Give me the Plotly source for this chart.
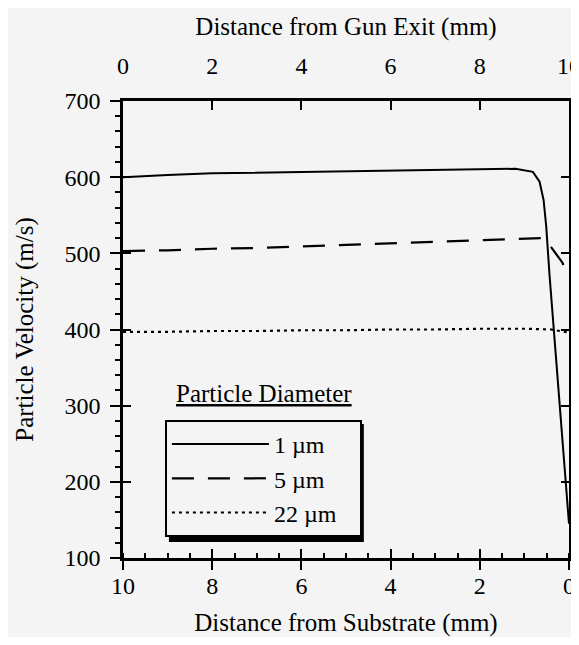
import plotly.graph_objects as go

# Distance from gun exit (mm) and particle velocity (m/s) for each particle diameter
x_1um = [0, 1, 2, 3, 4, 5, 6, 7, 8, 8.8, 9.19, 9.34, 9.43, 9.49, 9.56, 9.71, 9.90, 9.97, 10.0]
v_1um = [600, 603, 605, 606, 607, 608, 609, 610, 611, 611, 607, 594, 570, 535, 474, 360, 220, 172, 145]

x_5um = [0, 1, 2, 3, 4, 5, 6, 7, 8, 9, 9.41, 9.55, 9.67, 9.85, 10.0]
v_5um = [503, 504, 506, 507, 509, 511, 513, 515, 517, 519, 520, 512, 502, 488, 468]

x_22um = [0, 1, 2, 3, 4, 5, 6, 7, 8, 9, 9.6, 10.0]
v_22um = [397, 397, 398, 398, 399, 399, 400, 400, 401, 401, 400, 396]

series_names = ["1 \u00b5m", "5 \u00b5m", "22 \u00b5m\u00a0\u00a0\u00a0"]

top_ticks = [0, 2, 4, 6, 8, 10]
bottom_ticks = [10, 8, 6, 4, 2, 0]
y_ticks = [100, 200, 300, 400, 500, 600, 700]

FONT = "Liberation Serif"
BG = "#f4f4f4"

fig = go.Figure()
fig.add_trace(go.Scatter(x=x_1um, y=v_1um, mode="lines", name=series_names[0],
                         xaxis="x2", yaxis="y",
                         line=dict(color="black", width=2, dash="solid")))
fig.add_trace(go.Scatter(x=x_5um, y=v_5um, mode="lines", name=series_names[1],
                         xaxis="x2", yaxis="y",
                         line=dict(color="black", width=2.2, dash="22px,14px")))
fig.add_trace(go.Scatter(x=x_22um, y=v_22um, mode="lines", name=series_names[2],
                         xaxis="x2", yaxis="y",
                         line=dict(color="black", width=2.2, dash="3px,4px")))
# empty helpers so the bottom distance axis and the inside-tick y axis are drawn
fig.add_trace(go.Scatter(x=[None], y=[None], xaxis="x", yaxis="y", showlegend=False,
                         hoverinfo="skip"))
fig.add_trace(go.Scatter(x=[None], y=[None], xaxis="x", yaxis="y2", showlegend=False,
                         hoverinfo="skip"))

tickfont = dict(family=FONT, size=24, color="black")
titlefont = dict(family=FONT, size=25, color="black")

fig.update_layout(
    width=563, height=629,
    margin=dict(l=115, r=2, t=93, b=79, autoexpand=False),
    paper_bgcolor=BG, plot_bgcolor=BG,
    font=dict(family=FONT, color="black"),
    xaxis=dict(
        range=[10, 0], tickvals=bottom_ticks, ticktext=[str(t) for t in bottom_ticks],
        side="bottom", showgrid=False, zeroline=False,
        showline=True, linecolor="black", linewidth=2.5, mirror=True,
        ticks="outside", ticklen=9, tickwidth=2, tickcolor="black",
        minor=dict(dtick=0.5, ticks="inside", ticklen=5, tickwidth=1.5, tickcolor="black"),
        tickfont=tickfont, ticklabelstandoff=-5, ticklabeloverflow="allow",
        title=dict(text="Distance from Substrate (mm)", font=titlefont, standoff=23),
    ),
    xaxis2=dict(
        range=[0, 10], tickvals=top_ticks, ticktext=[str(t) for t in top_ticks],
        overlaying="x", side="top", showgrid=False, zeroline=False,
        showline=False, mirror="ticks",
        ticks="inside", ticklen=9, tickwidth=2, tickcolor="black",
        tickfont=tickfont, ticklabelstandoff=21, ticklabeloverflow="allow",
        title=dict(text="Distance from Gun Exit (mm)", font=titlefont, standoff=10),
    ),
    yaxis=dict(
        range=[100, 700], tickvals=y_ticks, ticktext=[str(t) for t in y_ticks],
        showgrid=False, zeroline=False,
        showline=True, linecolor="black", linewidth=2.5, mirror=True,
        ticks="outside", ticklen=10, tickwidth=2, tickcolor="black",
        minor=dict(dtick=20, ticks="outside", ticklen=5, tickwidth=1.5, tickcolor="black"),
        tickfont=tickfont, ticklabelstandoff=5,
        title=dict(text="Particle Velocity (m/s)", font=titlefont, standoff=24),
    ),
    yaxis2=dict(
        range=[100, 700], tickvals=y_ticks, overlaying="y", side="left",
        showgrid=False, zeroline=False, showline=False, mirror="ticks",
        ticks="inside", ticklen=8, tickwidth=2, tickcolor="black",
        showticklabels=False,
    ),
    showlegend=True,
    legend=dict(
        x=0.094, y=0.302, xanchor="left", yanchor="top",
        bgcolor=BG, bordercolor="black", borderwidth=2,
        font=dict(family=FONT, size=24, color="black"),
        itemwidth=97, tracegroupgap=0,
    ),
    annotations=[
        dict(text="<u>Particle Diameter</u>", xref="paper", yref="paper",
             x=0.316, y=0.361, xanchor="center", yanchor="middle", showarrow=False,
             font=dict(family=FONT, size=25, color="black")),
    ],
    shapes=[
        # drop shadow behind the legend box
        dict(type="rect", xref="paper", yref="paper", layer="above",
             x0=0.103, x1=0.540, y0=0.035, y1=0.293,
             fillcolor="black", line=dict(width=0)),
    ],
)

fig.write_html("out.html")
